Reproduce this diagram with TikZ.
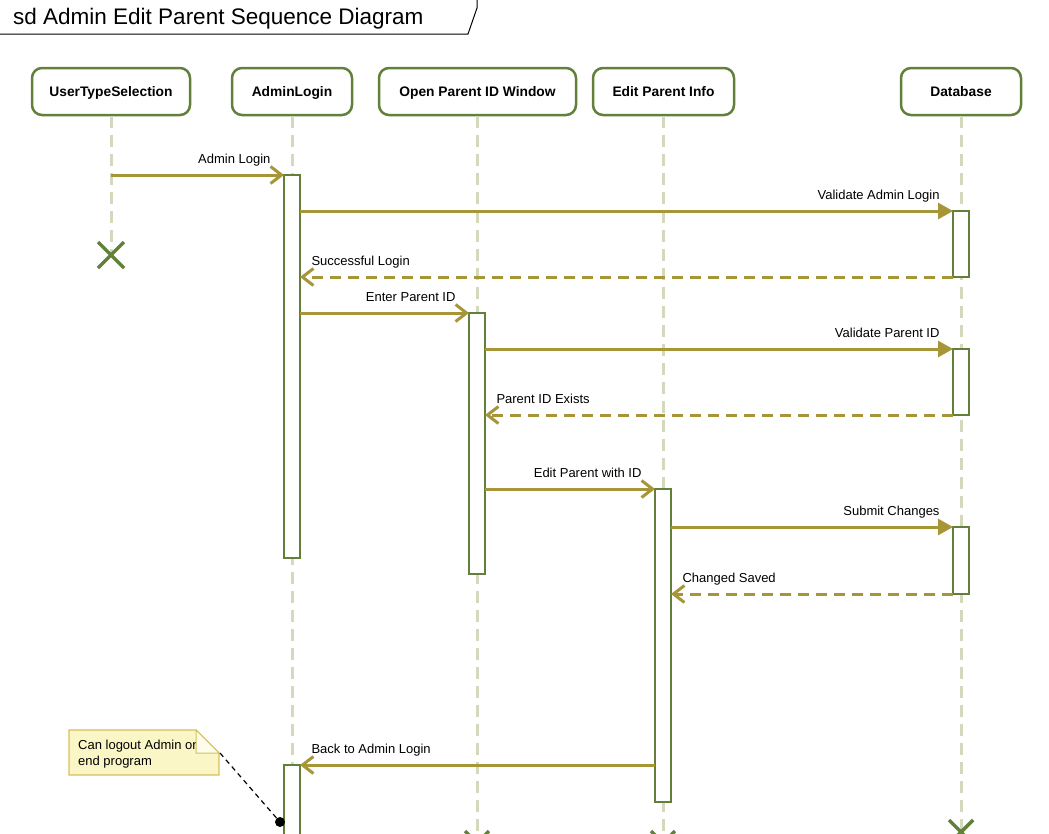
\documentclass[tikz,border=0pt]{standalone}
\usepackage{fontspec}
\setmainfont{Liberation Sans}
\usetikzlibrary{arrows.meta}
\definecolor{lifegreen}{RGB}{99,128,58}
\definecolor{msggold}{RGB}{166,150,56}
\definecolor{lineshade}{RGB}{212,217,190}
\definecolor{notefill}{RGB}{251,246,198}
\definecolor{notefold}{RGB}{254,252,236}
\definecolor{noteedge}{RGB}{214,192,92}
\tikzset{
  head/.style = {draw=lifegreen, line width=2.5pt, rounded corners=10pt, fill=white,
    minimum height=47pt, inner sep=0, text height=10pt, text depth=0pt,
    font=\fontsize{13.8}{16}\selectfont\bfseries},
  lifeline/.style = {draw=lineshade, line width=3pt, dash pattern=on 12pt off 7pt},
  act/.style = {draw=lifegreen, line width=2pt, fill=white, minimum width=16pt,
    inner sep=0, outer sep=0, anchor=north},
  call/.style = {draw=msggold, line width=3pt,
    -{Straight Barb[length=11pt,width=17pt,line width=3pt]}},
  sync/.style = {draw=msggold, line width=3pt, -{Triangle[length=15pt,width=16pt]}},
  reply/.style = {call, dash pattern=on 11pt off 7pt},
  fwdlabel/.style = {inner sep=0, anchor=base east, xshift=-12pt, yshift=12pt,
    font=\fontsize{13}{15}\selectfont},
  backlabel/.style = {inner sep=0, anchor=base west, xshift=10pt, yshift=12pt,
    font=\fontsize{13}{15}\selectfont},
  destroy/.style = {draw=lifegreen, line width=3.5pt}
}
\begin{document}
\begin{tikzpicture}[x=1pt,y=-1pt]
\useasboundingbox (0,0) rectangle (1049,833);
\fill[white] (0,0) rectangle (1049,833);
\clip (0,0) rectangle (1049,833);
% frame tab
\draw[line width=1pt] (0,34) -- (468,34) -- (477,8) -- (477,0);
\node[inner sep=0, anchor=base west, font=\fontsize{22.5}{26}\selectfont] (title) at (13,24) {sd Admin Edit Parent Sequence Diagram};
% lifeline heads
\node[head, minimum width=158pt] (uts) at (111,91.5) {UserTypeSelection};
\node[head, minimum width=120pt] (admin) at (292,91.5) {AdminLogin};
\node[head, minimum width=197pt] (openid) at (477.5,91.5) {Open Parent ID Window};
\node[head, minimum width=141pt] (edit) at (663.5,91.5) {Edit Parent Info};
\node[head, minimum width=120pt] (db) at (961,91.5) {Database};
% lifelines
\coordinate (utsend) at (111,255);
\draw[lifeline] (uts.south) -- (utsend);
\foreach \n in {admin,openid,edit,db}
  \draw[lifeline] (\n.south) -- (\n.south |- 0,850);
% activations
\node[act, minimum height=383pt] (actA1) at (292,175) {};
\node[act, minimum height=80pt] (actA2) at (292,765) {};
\node[act, minimum height=261pt] (actO) at (477,313) {};
\node[act, minimum height=313pt] (actE) at (663,489) {};
\node[act, minimum height=66pt] (actD1) at (961,211) {};
\node[act, minimum height=66pt] (actD2) at (961,349) {};
\node[act, minimum height=67pt] (actD3) at (961,527) {};
% messages
\draw[call] (actA1.north west -| uts) -- (actA1.north west) node[fwdlabel] {Admin Login};
\draw[sync] (actD1.north west -| actA1.east) -- (actD1.north west) node[fwdlabel] {Validate Admin Login};
\draw[reply] (actD1.south west) -- (actD1.south west -| actA1.east) node[backlabel] {Successful Login};
\draw[call] (actO.north west -| actA1.east) -- (actO.north west) node[fwdlabel] {Enter Parent ID};
\draw[sync] (actD2.north west -| actO.east) -- (actD2.north west) node[fwdlabel] {Validate Parent ID};
\draw[reply] (actD2.south west) -- (actD2.south west -| actO.east) node[backlabel] {Parent ID Exists};
\draw[call] (actE.north west -| actO.east) -- (actE.north west) node[fwdlabel] {Edit Parent with ID};
\draw[sync] (actD3.north west -| actE.east) -- (actD3.north west) node[fwdlabel] {Submit Changes};
\draw[reply] (actD3.south west) -- (actD3.south west -| actE.east) node[backlabel] {Changed Saved};
\draw[call] (actA2.north east -| actE.west) -- (actA2.north east) node[backlabel] {Back to Admin Login};
% destroy marks
\foreach \x/\y/\s in {111/255/13, 477/843/12, 663/843/12, 961/832/12}
  \draw[destroy] (\x-\s,\y-\s) -- (\x+\s,\y+\s) (\x-\s,\y+\s) -- (\x+\s,\y-\s);
% note
\draw[draw=noteedge, fill=notefill, line width=1.2pt] (69,730) -- (196,730) -- (219,753) -- (219,775) -- (69,775) -- cycle;
\node[inner sep=0, anchor=north west, align=left, font=\fontsize{13}{16}\selectfont] (notetext) at (78,739.5) {Can logout Admin or\\end program};
\draw[draw=noteedge, fill=notefold, line width=1pt] (196,730) -- (196,753) -- (219,753) -- cycle;
\coordinate (notecorner) at (220,753);
\coordinate (notedot) at (280,822);
\draw[line width=1.2pt, dash pattern=on 5pt off 4pt] (notecorner) -- (notedot);
\fill (notedot) circle (5pt);
\end{tikzpicture}
\end{document}
